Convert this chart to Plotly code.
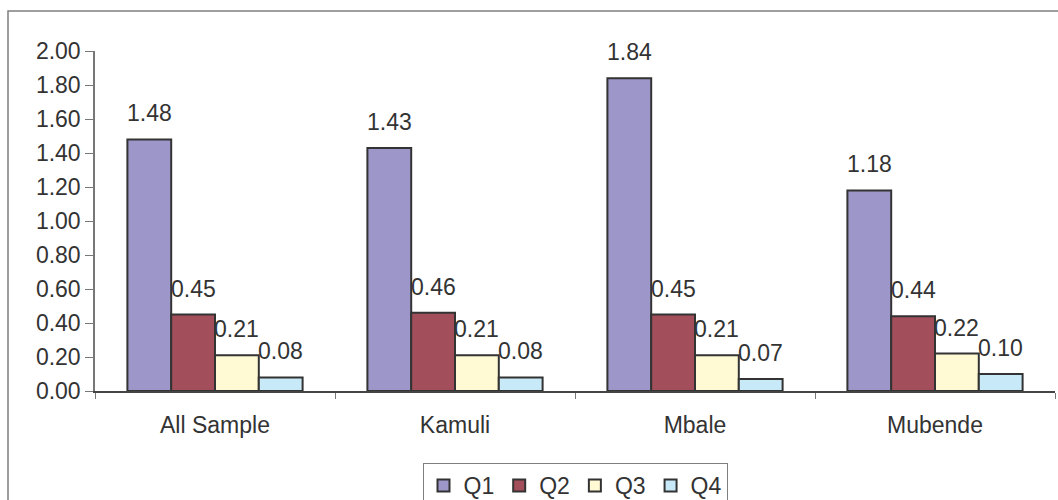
import plotly.graph_objects as go

categories = ["All Sample", "Kamuli", "Mbale", "Mubende"]
series_names = ["Q1", "Q2", "Q3", "Q4"]
q1 = [1.48, 1.43, 1.84, 1.18]
q2 = [0.45, 0.46, 0.45, 0.44]
q3 = [0.21, 0.21, 0.21, 0.22]
q4 = [0.08, 0.08, 0.07, 0.10]
series_values = [q1, q2, q3, q4]
y_ticks = [0.0, 0.2, 0.4, 0.6, 0.8, 1.0, 1.2, 1.4, 1.6, 1.8, 2.0]

colors = ["#9D96C8", "#A34F5B", "#FFFAD4", "#C8E9F8"]
FONT = "Liberation Sans, Arial, sans-serif"
TXT = "#333333"
FS = 23

W, H = 1058, 500
ML, MR, MT, MB = 95, 3, 51, 109
PW, PH = W - ML - MR, H - MT - MB
BARGAP = 0.27

fig = go.Figure()
for name, vals, col in zip(series_names, series_values, colors):
    fig.add_trace(go.Bar(
        name=name, x=categories, y=vals,
        marker=dict(color=col, line=dict(color="#333333", width=2)),
    ))

# data labels above bars
bar_px = PW / len(categories) * (1 - BARGAP) / len(series_names)
for i, vals in enumerate(series_values):
    for c, v in zip(categories, vals):
        fig.add_annotation(
            x=c, y=v, xref="x", yref="y", text=f"{v:.2f}",
            showarrow=False, yanchor="bottom", xanchor="center",
            xshift=(i - (len(series_names) - 1) / 2) * bar_px, yshift=11,
            font=dict(family=FONT, size=FS, color=TXT),
        )

# outer chart border
fig.add_shape(type="rect", xref="paper", yref="paper",
              x0=(8 - ML) / PW, x1=1.2, y0=-0.6, y1=1 + (MT - 11) / PH,
              line=dict(color="#7F7F7F", width=1.5), fillcolor="rgba(0,0,0,0)",
              layer="below")

fig.update_layout(
    width=W, height=H,
    margin=dict(l=ML, r=MR, t=MT, b=MB, autoexpand=False),
    barmode="group", bargap=BARGAP, bargroupgap=0,
    plot_bgcolor="white", paper_bgcolor="white",
    font=dict(family=FONT, size=FS, color=TXT),
    showlegend=True,
    legend=dict(orientation="h", x=0.5, xanchor="center", y=-72 / PH,
                yanchor="top", bordercolor="#7F7F7F", borderwidth=1,
                font=dict(family=FONT, size=FS, color=TXT),
                itemwidth=30, tracegroupgap=0),
    xaxis=dict(
        showline=True, linecolor="#444444", linewidth=1.5,
        ticks="outside", tickson="boundaries", ticklen=6, tickcolor="#777777",
        tickfont=dict(family=FONT, size=FS, color=TXT), ticklabelstandoff=13,
        showgrid=False, zeroline=False, fixedrange=True,
    ),
    yaxis=dict(
        range=[0, 2.0], tickvals=y_ticks, ticktext=[f"{t:.2f}" for t in y_ticks],
        showline=True, linecolor="#777777", linewidth=1.5,
        ticks="outside", ticklen=8, tickcolor="#777777",
        tickfont=dict(family=FONT, size=FS, color=TXT),
        showgrid=False, zeroline=False,
    ),
)

fig.write_html("out.html")
